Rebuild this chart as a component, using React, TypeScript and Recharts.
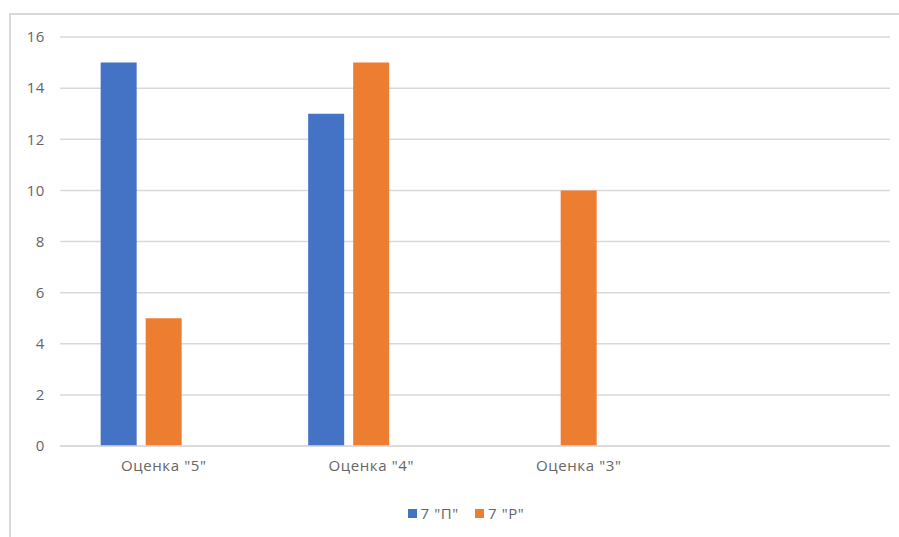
import React from 'react'
import { BarChart, Bar, XAxis, YAxis, CartesianGrid } from 'recharts'

const categories = ['Оценка "5"', 'Оценка "4"', 'Оценка "3"', '']
const seriesP = [15, 13, 0, null]
const seriesR = [5, 15, 10, null]
const seriesEmpty = [null, null, null, null]
const yTicks = [0, 2, 4, 6, 8, 10, 12, 14, 16]

const data = categories.map((name, i) => ({
  name,
  p: seriesP[i],
  r: seriesR[i],
  e: seriesEmpty[i],
}))

const BLUE = '#4472C4'
const ORANGE = '#ED7D31'
const TEXT = '#666666'
const FONT = '"Open Sans", "Liberation Sans", sans-serif'
const FS = 15

const legendItems = [
  { label: '7 "П"', color: BLUE },
  { label: '7 "Р"', color: ORANGE },
]

export default function App() {
  return (
    <div style={{ position: 'absolute', left: 0, top: 0, width: 899, height: 537, background: '#fff', fontFamily: FONT }}>
      <div
        style={{
          position: 'absolute',
          left: 9,
          top: 13,
          width: 890,
          height: 524,
          borderTop: '2px solid #d9d9d9',
          borderLeft: '2px solid #d9d9d9',
        }}
      />
      <div style={{ position: 'absolute', left: 0, top: 0 }}>
        <BarChart
          width={899}
          height={537}
          data={data}
          margin={{ top: 37, right: 9, bottom: 61, left: 0 }}
          barGap={9}
          barCategoryGap="19.6%"
        >
          <CartesianGrid vertical={false} stroke="#d9d9d9" strokeWidth={1.5} />
          <XAxis
            dataKey="name"
            height={30}
            tickLine={false}
            axisLine={{ stroke: '#d9d9d9', strokeWidth: 1.5 }}
            tick={{ fill: TEXT, fontSize: FS, fontFamily: FONT, letterSpacing: 0.6 }}
            tickMargin={8}
            interval={0}
          />
          <YAxis
            width={60}
            domain={[0, 16]}
            ticks={yTicks}
            tickLine={false}
            axisLine={false}
            tick={{ fill: TEXT, fontSize: FS, fontFamily: FONT, letterSpacing: 0.6 }}
            tickMargin={9}
          />
          <Bar dataKey="p" name='7 "П"' fill={BLUE} isAnimationActive={false} />
          <Bar dataKey="r" name='7 "Р"' fill={ORANGE} isAnimationActive={false} />
          <Bar dataKey="e" name="" fill="transparent" legendType="none" isAnimationActive={false} />
        </BarChart>
      </div>
      <div
        style={{
          position: 'absolute',
          left: 0,
          top: 503,
          width: 932,
          display: 'flex',
          justifyContent: 'center',
          gap: 16,
          fontSize: FS,
          letterSpacing: 0.6,
          color: TEXT,
        }}
      >
        {legendItems.map((it) => (
          <div key={it.label} style={{ display: 'flex', alignItems: 'center' }}>
            <span style={{ display: 'inline-block', width: 9, height: 9, background: it.color, marginRight: 4 }} />
            <span>{it.label}</span>
          </div>
        ))}
      </div>
    </div>
  )
}
